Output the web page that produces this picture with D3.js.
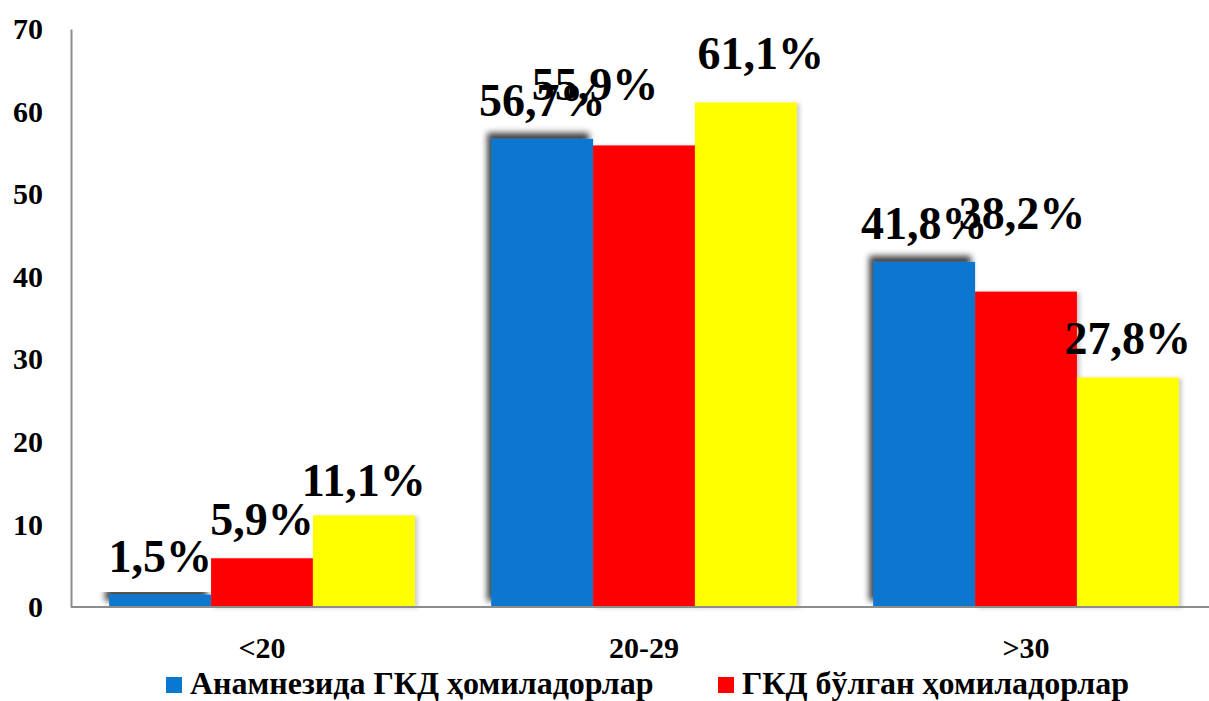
<!DOCTYPE html>
<html>
<head>
<meta charset="utf-8">
<script src="https://cdn.jsdelivr.net/npm/d3@7"></script>
<style>
  html, body { margin: 0; padding: 0; background: #fff; }
  svg { display: block; font-family: "Liberation Serif", "Times New Roman", serif; font-weight: bold; }
</style>
</head>
<body>
<svg id="chart" width="1209" height="701"></svg>
<script>
// Age groups and the share of pregnant women in each (per cent)
const categories = ["<20", "20-29", ">30"];
const seriesKeys = ["anamnesis", "current", "third"];
const anamnesisValues = [1.5, 56.7, 41.8];
const currentValues = [5.9, 55.9, 38.2];
const thirdValues = [11.1, 61.1, 27.8];
const legendLabels = ["Анамнезида ГКД ҳомиладорлар", "ГКД бўлган ҳомиладорлар"];
const yTicks = [0, 10, 20, 30, 40, 50, 60, 70];

const seriesValues = [anamnesisValues, currentValues, thirdValues];
const colors = ["#0877cf", "#ff0000", "#ffff00"];

// manual nudges for labels that collide (series index, category index) -> [dx, dy]
const labelNudge = { "1-1": [-49, -22], "2-1": [15, -10], "1-2": [-4, -40], "2-0": [0, 4] };

const svg = d3.select("#chart");
const margin = { left: 71, right: 1217, top: 29, bottom: 607 };

const x0 = d3.scaleBand().domain(categories).range([margin.left, margin.right]).paddingInner(0.2).paddingOuter(0.1);
const x1 = d3.scaleBand().domain(seriesKeys).range([0, x0.bandwidth()]);
const y = d3.scaleLinear().domain([0, 70]).range([margin.bottom, margin.top]);

// drop shadows
const defs = svg.append("defs");
const shadowBlue = defs.append("filter").attr("id", "shadowBlue")
  .attr("x", "-20%").attr("y", "-20%").attr("width", "140%").attr("height", "140%");
shadowBlue.append("feDropShadow").attr("dx", -4).attr("dy", -6).attr("stdDeviation", 3)
  .attr("flood-color", "#000").attr("flood-opacity", 0.75);
const shadowSoft = defs.append("filter").attr("id", "shadowSoft")
  .attr("x", "-20%").attr("y", "-20%").attr("width", "140%").attr("height", "140%");
shadowSoft.append("feDropShadow").attr("dx", 3).attr("dy", 1).attr("stdDeviation", 2)
  .attr("flood-color", "#000").attr("flood-opacity", 0.2);

// y axis (line + labels, no tick marks)
const yAxis = d3.axisLeft(y).tickValues(yTicks).tickSize(0).tickPadding(28).tickFormat(d3.format("d"));
const gy = svg.append("g").attr("transform", `translate(${margin.left},0)`).call(yAxis);
gy.select(".domain").attr("stroke", "#8c8c8c").attr("stroke-width", 2);
gy.selectAll("text").attr("font-size", 30).attr("font-family", "Liberation Serif").attr("font-weight", "bold").attr("fill", "#000");

// bars
const groups = svg.append("g").selectAll("g")
  .data(categories).join("g")
  .attr("transform", d => `translate(${x0(d)},0)`);

seriesKeys.forEach((key, si) => {
  groups.append("rect")
    .attr("x", x1(key))
    .attr("width", x1.bandwidth())
    .attr("y", (d, ci) => y(seriesValues[si][ci]))
    .attr("height", (d, ci) => y(0) - y(seriesValues[si][ci]))
    .attr("fill", colors[si])
    .attr("filter", si === 0 ? "url(#shadowBlue)" : "url(#shadowSoft)");
});

// x axis
const xAxis = d3.axisBottom(x0).tickSize(0).tickPadding(30);
const gx = svg.append("g").attr("transform", `translate(0,${margin.bottom})`).call(xAxis);
gx.select(".domain").attr("stroke", "#8c8c8c").attr("stroke-width", 2).attr("d", `M${margin.left},0H1209`);
gx.selectAll("text").attr("font-size", 30).attr("font-family", "Liberation Serif").attr("font-weight", "bold").attr("fill", "#000").attr("dy", "0.71em");

// value labels
const fmt = v => d3.format(".1f")(v).replace(".", ",") + "%";
seriesKeys.forEach((key, si) => {
  groups.append("text")
    .attr("text-anchor", "middle")
    .attr("font-size", 46)
    .attr("fill", "#000")
    .attr("x", (d, ci) => x1(key) + x1.bandwidth() / 2 + (labelNudge[`${si}-${ci}`] || [0, 0])[0])
    .attr("y", (d, ci) => y(seriesValues[si][ci]) - 23 + (labelNudge[`${si}-${ci}`] || [0, 0])[1])
    .text((d, ci) => fmt(seriesValues[si][ci]));
});

// legend
const legendPos = [166, 718];
const legend = svg.append("g").selectAll("g").data(legendLabels).join("g")
  .attr("transform", (d, i) => `translate(${legendPos[i]},677)`);
legend.append("rect").attr("width", 16).attr("height", 16).attr("fill", (d, i) => colors[i]);
legend.append("text").attr("x", 24).attr("y", 17).attr("font-size", 32).attr("fill", "#000").text(d => d);
</script>
</body>
</html>
